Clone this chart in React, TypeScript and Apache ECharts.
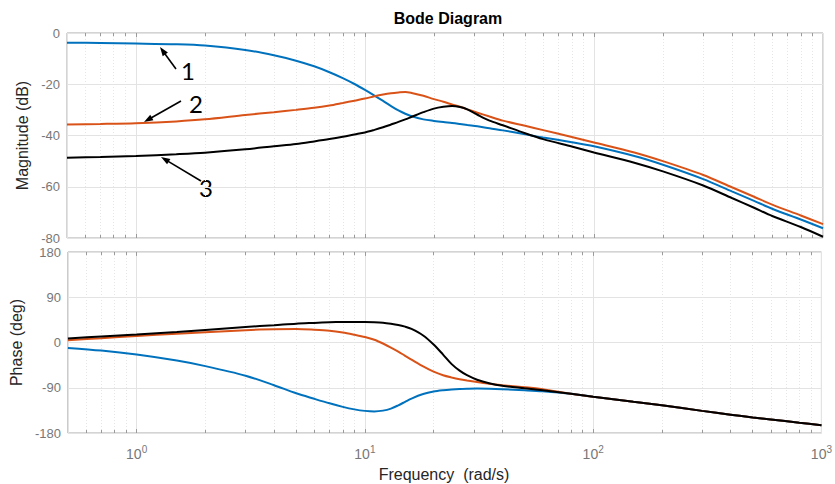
import React, { useEffect, useRef } from "react";
import * as echarts from "echarts";

// Frequencies (rad/s)
const freq = [0.5, 0.7, 1, 1.5, 2, 3, 4, 5, 6, 7, 8, 9, 10, 11, 12, 13, 14, 15, 16, 18, 20, 22, 24, 26, 28, 31, 35, 40, 50, 60, 80, 100, 150, 200, 300, 400, 500, 600, 800, 1000];

// Magnitude (dB)
const magBlue = [-3.8, -3.9, -4.1, -4.4, -4.9, -6.6, -8.7, -10.8, -13.0, -15.3, -17.6, -19.9, -22.2, -24.4, -26.5, -28.5, -30.2, -31.5, -32.5, -33.7, -34.3, -34.75, -35.1, -35.5, -35.9, -36.4, -37.2, -38.0, -39.5, -40.8, -42.6, -44.2, -48.0, -51.4, -57.0, -61.8, -65.5, -68.6, -72.8, -76.2];
const magOrange = [-35.7, -35.5, -35.2, -34.5, -33.7, -32.0, -30.9, -30.0, -29.2, -28.3, -27.3, -26.4, -25.6, -24.7, -24.0, -23.5, -23.2, -23.0, -23.4, -24.5, -25.8, -26.8, -27.9, -28.8, -29.8, -31.1, -32.6, -34.2, -36.2, -37.9, -40.6, -42.7, -46.6, -50.0, -55.4, -60.2, -63.9, -67.0, -71.2, -74.6];
const magBlack = [-48.7, -48.4, -48.0, -47.3, -46.7, -45.4, -44.2, -43.3, -42.3, -41.4, -40.5, -39.6, -38.8, -37.8, -36.8, -35.7, -34.7, -33.7, -32.7, -30.9, -29.5, -28.8, -28.5, -28.9, -29.8, -31.9, -34.2, -36.0, -39.1, -41.4, -44.3, -46.6, -50.6, -54.0, -59.5, -64.4, -68.2, -71.4, -75.7, -79.5];

// Phase (deg)
const phBlue = [-10.7, -16, -24, -36, -47, -66, -85, -101, -112, -121, -128, -133, -136, -137, -135.5, -131.5, -125, -118, -111.5, -102.5, -97.5, -95, -93.5, -92.5, -92, -91.6, -92, -93, -95, -97, -102, -108, -118, -125, -136, -143.5, -149, -153, -159.5, -164.5];
const phOrange = [4.6, 8.5, 13, 17.5, 20.5, 24.5, 26.5, 27, 25.5, 23.5, 20, 15.5, 11, 5.5, -2, -10, -18, -26.5, -34, -47.5, -58, -65, -69.5, -73, -75.5, -78.5, -82, -85, -89, -93, -102, -108, -118, -125, -136, -143.5, -149, -153, -159.5, -164.5];
const phBlack = [8, 12, 16, 21, 25, 31, 34.5, 37.5, 39, 40.2, 40.8, 41, 41, 40.5, 39.5, 37.5, 35, 31.5, 27, 14, -4, -24, -43, -56, -65, -74, -81, -86, -91, -95, -102, -108, -118, -125, -136, -143.5, -149, -153, -159.5, -164.5];

const magTicks = { min: -80, max: 0, interval: 20 };
const phaseTicks = { min: -180, max: 180, interval: 90 };

const minorFreqs: number[] = [];
[0.1, 1, 10, 100].forEach((d) => {
  for (let k = 2; k <= 9; k++) {
    const v = +(k * d).toPrecision(3);
    if (v > 0.5 && v < 1000) minorFreqs.push(v);
  }
});

const BLUE = "#0072BD";
const ORANGE = "#D95319";
const BLACK = "#000000";
const FONT = "'Liberation Sans', Arial, sans-serif";

function pairs(vals: number[]) {
  return freq.map((f, i) => [f, vals[i]]);
}

function arrow(tail: [number, number], tip: [number, number]) {
  const dx = tip[0] - tail[0];
  const dy = tip[1] - tail[1];
  const len = Math.hypot(dx, dy);
  const ux = dx / len, uy = dy / len;
  const hl = 9, hw = 3.2;
  const bx = tip[0] - ux * hl, by = tip[1] - uy * hl;
  const px = -uy * hw, py = ux * hw;
  return [
    { type: "line", shape: { x1: tail[0], y1: tail[1], x2: bx + ux * 2, y2: by + uy * 2 }, style: { stroke: "#000", lineWidth: 1.6 } },
    { type: "polygon", shape: { points: [[tip[0], tip[1]], [bx + px, by + py], [bx - px, by - py]] }, style: { fill: "#000" } },
  ];
}

export default function App() {
  const ref = useRef<HTMLDivElement>(null);
  useEffect(() => {
    if (!ref.current) return;
    const chart = echarts.init(ref.current, undefined, { renderer: "svg" });
    const gridL = 67, gridR = 12;
    const labelColor = "#777777";
    const xAxisBase = (gridIndex: number, showLabel: boolean) => ({
      type: "log",
      logBase: 10,
      gridIndex,
      min: 0.5,
      max: 1000,
      axisLine: { show: false },
      axisTick: { show: false },
      splitLine: { show: true, lineStyle: { color: "#e3e3e3", width: 1 } },
      axisLabel: {
        show: showLabel,
        margin: 11,
        formatter: (v: number) => {
          const p = Math.round(Math.log10(v));
          if (Math.abs(Math.log10(v) - p) > 1e-6) return "";
          return "{b|10}{s|" + p + "}";
        },
        rich: {
          b: { fontSize: 14, color: labelColor, fontFamily: FONT },
          s: { fontSize: 10, color: labelColor, fontFamily: FONT, padding: [0, 0, 10, 0] },
        },
      },
    });
    const yAxisBase = (gridIndex: number, t: any, name: string, gap: number) => ({
      type: "value",
      gridIndex,
      min: t.min,
      max: t.max,
      interval: t.interval,
      name,
      nameLocation: "middle",
      nameGap: gap,
      nameTextStyle: { color: "#262626", fontSize: 16, fontFamily: FONT },
      axisLine: { show: false },
      axisTick: { show: false },
      splitLine: { show: true, lineStyle: { color: "#e3e3e3", width: 1 } },
      axisLabel: { color: labelColor, fontSize: 13, lineHeight: 13, fontFamily: FONT, margin: 7 },
    });

    const minorLines = (yMin: number, yMax: number, tickLen: number) => {
      const data: any[] = [];
      minorFreqs.forEach((f) => {
        data.push({ xAxis: f, lineStyle: { color: "#e6e6e6", type: [1, 2], width: 1 } });
        data.push([{ coord: [f, yMin] }, { coord: [f, yMin + tickLen], lineStyle: { color: "#9a9a9a", type: "solid", width: 1 } }]);
        data.push([{ coord: [f, yMax] }, { coord: [f, yMax - tickLen], lineStyle: { color: "#9a9a9a", type: "solid", width: 1 } }]);
      });
      [1, 10, 100].forEach((f) => {
        data.push([{ coord: [f, yMin] }, { coord: [f, yMin + tickLen * 1.3], lineStyle: { color: "#9a9a9a", type: "solid", width: 1 } }]);
        data.push([{ coord: [f, yMax] }, { coord: [f, yMax - tickLen * 1.3], lineStyle: { color: "#9a9a9a", type: "solid", width: 1 } }]);
      });
      return {
        silent: true,
        symbol: ["none", "none"],
        label: { show: false },
        z: 1,
        animation: false,
        data,
      };
    };

    const lineSeries = (name: string, xi: number, vals: number[], color: string, extra?: any) => ({
      name,
      type: "line",
      xAxisIndex: xi,
      yAxisIndex: xi,
      data: pairs(vals),
      smooth: 0.3,
      showSymbol: false,
      symbol: "none",
      lineStyle: { color, width: 2 },
      itemStyle: { color },
      z: 3,
      ...(extra || {}),
    });

    chart.setOption({
      animation: false,
      backgroundColor: "#ffffff",
      title: {
        text: "Bode Diagram",
        left: 443,
        top: 5,
        textAlign: "center",
        textStyle: { fontSize: 16, fontWeight: "bold", color: "#000", fontFamily: FONT },
      },
      grid: [
        { left: gridL, right: gridR, top: 33, height: 205, show: true, borderColor: "#a8a8a8", borderWidth: 1, containLabel: false },
        { left: gridL, right: gridR, top: 252, height: 181, show: true, borderColor: "#a8a8a8", borderWidth: 1, containLabel: false },
      ],
      xAxis: [xAxisBase(0, false), xAxisBase(1, true)],
      yAxis: [yAxisBase(0, magTicks, "Magnitude (dB)", 32), yAxisBase(1, phaseTicks, "Phase (deg)", 40)],
      series: [
        lineSeries("mag1", 0, magBlue, BLUE, { markLine: minorLines(-80, 0, 1.2) }),
        lineSeries("mag2", 0, magOrange, ORANGE),
        lineSeries("mag3", 0, magBlack, BLACK),
        lineSeries("ph1", 1, phBlue, BLUE, { markLine: minorLines(-180, 180, 6) }),
        lineSeries("ph2", 1, phOrange, ORANGE),
        lineSeries("ph3", 1, phBlack, BLACK),
      ],
      graphic: [
        ...arrow([176, 69], [160, 47]),
        ...arrow([181, 101], [144, 122]),
        ...arrow([201, 181], [161, 157]),
        { type: "text", x: 188, y: 70, style: { text: "1", fontSize: 24, fontFamily: "Lato, 'Open Sans', sans-serif", fill: "#000", align: "center", verticalAlign: "middle" } },
        { type: "text", x: 196, y: 103, style: { text: "2", fontSize: 24, fontFamily: "Lato, 'Open Sans', sans-serif", fill: "#000", align: "center", verticalAlign: "middle" } },
        { type: "text", x: 206, y: 187, style: { text: "3", fontSize: 24, fontFamily: "Lato, 'Open Sans', sans-serif", fill: "#000", align: "center", verticalAlign: "middle" } },
        { type: "text", x: 444, y: 474, style: { text: "Frequency  (rad/s)", fontSize: 16, fontFamily: FONT, fill: "#262626", align: "center", verticalAlign: "middle" } },
      ],
    });
    return () => chart.dispose();
  }, []);
  return <div ref={ref} style={{ position: "fixed", left: 0, top: 0, width: 835, height: 484 }} />;
}
